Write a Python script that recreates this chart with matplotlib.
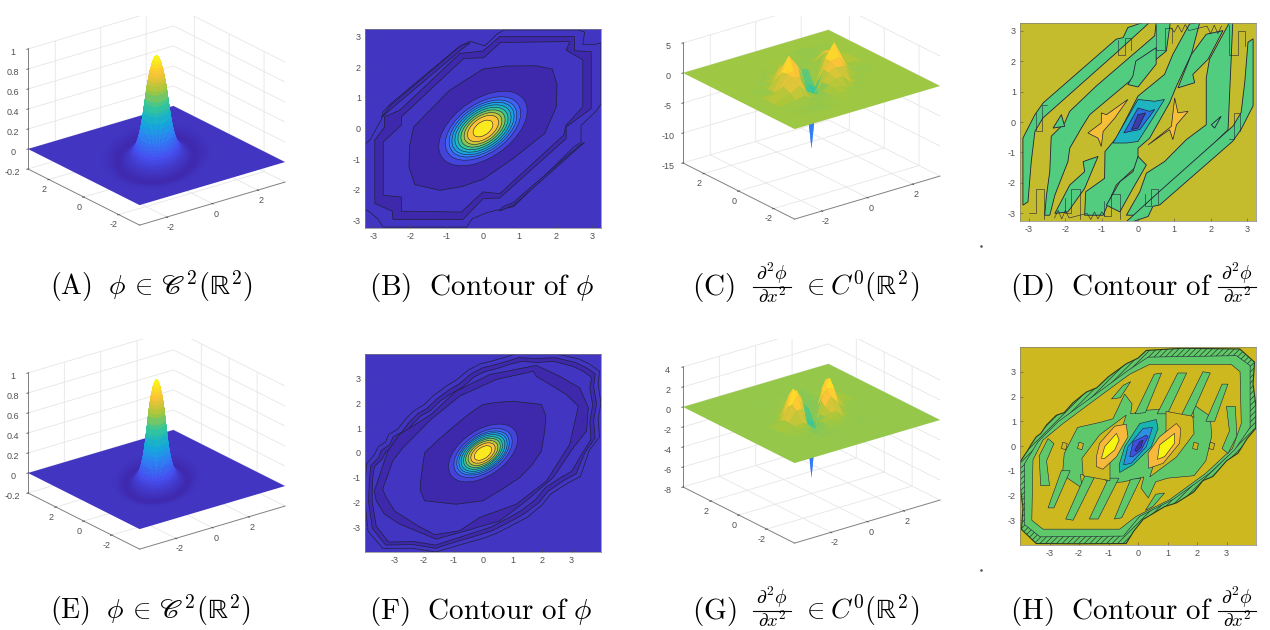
import matplotlib
matplotlib.use('Agg')
import matplotlib.pyplot as plt
import numpy as np
from matplotlib.colors import LinearSegmentedColormap, Normalize
from matplotlib.lines import Line2D
from matplotlib.patches import Ellipse, Rectangle
from mpl_toolkits.mplot3d import proj3d

plt.rcParams['axes.unicode_minus'] = False
plt.rcParams['font.family'] = ['Liberation Sans', 'DejaVu Sans']
plt.rcParams['mathtext.fontset'] = 'cm'
plt.rcParams['hatch.linewidth'] = 0.5

parula_colors = [(0.2422, 0.1504, 0.6603), (0.2810, 0.3228, 0.9578), (0.1786, 0.5289, 0.9682),
                 (0.0689, 0.6948, 0.8394), (0.2161, 0.7843, 0.5923), (0.6720, 0.7793, 0.2227),
                 (0.9970, 0.7659, 0.2199), (0.9769, 0.9839, 0.0805)]
parula = LinearSegmentedColormap.from_list('parula', parula_colors)

REALS = r'(\mathrm{\mathbb{R}}^2)'
phi_caption = r'$\mathrm{(%s)}\ \ \phi\,\in\,\mathscr{C}^2' + REALS + '$'
contour_phi_caption = r'$\mathrm{(%s)}\ \ \mathrm{Contour\ of}\ \phi$'
dxx_head = r'$\mathrm{(%s)}$'
dxx_tail = r'$\in C^0' + REALS + '$'
contour_dxx_head = r'$\mathrm{(%s)}\ \ \mathrm{Contour\ of}$'
dxx_top = r'$\partial^2\phi$'
dxx_bottom = r'$\partial x^2$'

# radial profile of the bump, read along the short axis of its ellipse
phi_r = [0, .03, .06, .09, .12, .15, .18, .2, .23, .25, .28, .3, .33, .35, .38, .4, .43, .45, .48, .51, .54, .57, .6,
         .63, .66, .69, .72, .76, .8, .84, .88, .92, .96, 1.0, 1.05, 1.1, 1.15, 1.2, 1.27, 1.33, 1.4, 1.47, 1.55, 1.65,
         1.75, 1.9]
phi_z = [1, .995, .985, .97, .95, .93, .9, .875, .85, .82, .78, .745, .7, .665, .6, .56, .5, .465, .4, .35, .3, .26,
         .22, .19, .16, .135, .11, .09, .07, .055, .04, .027, .015, .005, -.005, -.012, -.02, -.027, -.033, -.035,
         -.033, -.028, -.02, -.012, -.005, 0]

grid_xy = [-2.4, -1.7, -1.3, -1, -.6, -.3, 0, .3, .6, 1, 1.3, 1.7, 2.4]
dxx_c = [[0] * 13,
         [0, -.3, -.5, -.2, -.1, .1, .2, .1, -.05, 0, 0, 0, 0],
         [0, .3, .6, -.2, -.3, -.1, .4, .5, -.2, -.1, 0, 0, 0],
         [0, 1, 1.8, .6, -.4, -.2, .6, 1.2, 1.3, -.3, -.1, 0, 0],
         [.05, 1.6, 2.6, 2.4, -2.8, -2, .4, 1.6, 2.2, 2, -.3, -.1, 0],
         [0, .3, 2.8, 3, -.6, -3.6, -1.6, 1.8, 2.8, 3, 1.2, -.2, 0],
         [0, -.2, 2.6, 5, 2.8, -.4, -3.8, -.4, 2.8, 5, 2.6, -.2, 0],
         [0, -.2, 1.2, 3, 2.8, 1.8, -1.6, -3.6, -.6, 3, 2.8, .3, 0],
         [0, -.1, -.3, 2, 2.2, 1.6, .4, -2, -2.8, 2.4, 2.6, 1.6, .05],
         [0, 0, -.1, -.3, 1.3, 1.2, .6, -.2, -.4, .6, 1.8, 1, 0],
         [0, 0, 0, -.1, -.2, .5, .4, -.1, -.3, -.2, .6, .3, 0],
         [0, 0, 0, 0, -.05, .1, .2, .1, -.1, -.2, -.5, -.3, 0],
         [0] * 13]
dxx_g = [[0] * 13,
         [0, .1, -.1, -.25, .1, -.2, .25, -.1, .2, -.15, .1, 0, 0],
         [0, .2, .2, -.3, -.2, .1, .3, .3, -.1, .15, -.1, .1, 0],
         [0, .3, .4, .2, -.5, .1, .4, .6, .6, -.2, .2, -.1, 0],
         [.05, .4, 1.4, 1.4, -1.6, -1.2, .3, .9, 1.8, 1.0, -.2, .2, 0],
         [0, .4, 1.8, 2.6, .4, -2.2, -.9, 1.4, 2.4, 2.2, .4, -.1, 0],
         [0, .2, 1.4, 3, 1.6, -.6, -2.6, -.6, 1.6, 3, 1.4, .2, 0],
         [0, -.1, .4, 2.2, 2.4, 1.4, -.9, -2.2, .4, 2.6, 1.8, .4, 0],
         [0, .2, -.2, 1.0, 1.8, .9, .3, -1.2, -1.6, 1.4, 1.4, .4, .05],
         [0, -.1, .2, -.2, .6, .6, .4, .1, -.5, .2, .4, .3, 0],
         [0, .1, -.1, .15, -.1, .3, .3, .1, -.2, -.3, .2, .2, 0],
         [0, 0, .1, -.15, .2, -.1, .25, -.2, .1, -.25, -.1, .1, 0],
         [0] * 13]
spike_xy = [-.4, -.15, 0, .15, .4]
spike_c = [[-1, -1.5, -2, -1.5, -1], [-1.5, -5, -6, -5, -1.5], [-2, -6, -11.5, -6, -2],
           [-1.5, -5, -6, -5, -1.5], [-1, -1.5, -2, -1.5, -1]]
spike_g = [[-.8, -1, -1.4, -1, -.8], [-1, -3, -3.6, -3, -1], [-1.4, -3.6, -6.4, -3.6, -1.4],
           [-1, -3, -3.6, -3, -1], [-.8, -1, -1.4, -1, -.8]]

# nested ellipses of phi: level, half axis lengths
ellipse_levels = [.05, .15, .25, .35, .45, .55, .65, .75, .85, .95]
b_major = [1.48, 1.26, 1.13, 1.04, .94, .84, .74, .63, .52, .33]
b_minor = [.88, .75, .68, .62, .56, .5, .44, .38, .31, .2]
f_major = [1.42, 1.2, 1.08, .99, .9, .8, .71, .61, .5, .36]
f_minor = [.85, .72, .65, .6, .54, .48, .43, .37, .3, .21]

b_outer = [(-3.25, -.52), (-3.1, -.35), (-2.8, .3), (-2.75, .55), (-2.55, .8), (-.65, 2.68), (-.35, 2.85),
           (.05, 2.7), (.4, 3.1), (.6, 3.22), (2.62, 3.22), (2.8, 3.15), (2.75, 2.75), (3.1, 2.75), (3.25, 2.8),
           (3.25, .8), (3.1, .55), (2.7, .1), (2.7, -.45), (2.5, -.6), (.85, -2.55), (.45, -2.65), (.1, -2.75),
           (-.3, -2.95), (-.45, -3.22), (-2.75, -3.22), (-2.9, -2.95), (-3.15, -2.7), (-3.25, -2.65)]
b_sliver_tl = [(-2.8, .35), (-2.55, .75), (-.6, 2.72), (-.35, 2.8), (-.55, 2.62), (-2.55, .62)]
b_sliver_br = [(2.8, -.45), (.85, -2.5), (.45, -2.7), (.55, -2.55), (.83, -2.42), (2.65, -.55)]
b_ring_outer = [(-2.98, -.38), (-2.71, .05), (-2.71, .38), (-2.29, .6), (-.64, 2.45), (0, 2.53), (.46, 3.0),
                (2.52, 3.0), (2.52, 2.54), (2.98, 2.51), (2.98, .65), (2.29, .05), (2.29, -.33), (.46, -2.27),
                (0, -2.29), (-.55, -2.97), (-2.48, -2.97), (-2.5, -2.7), (-2.98, -2.45)]
b_ring_inner = [(-2.75, -.44), (-2.25, .11), (-2.25, .38), (-.53, 2.29), (.02, 2.31), (.48, 2.81), (2.39, 2.84),
                (2.29, 2.56), (2.75, 2.24), (2.75, .71), (2.29, .11), (2.22, -.22), (.46, -2.13), (0, -2.07),
                (-.6, -2.73), (-2.25, -2.7), (-2.25, -2.24), (-2.75, -2.18)]
b_blob = [(0, 1.94), (.64, 2.04), (1.47, 2.05), (1.91, 1.94), (2.04, 1.42), (2.02, .71), (1.7, -.16), (.83, -.98),
          (0, -1.66), (-.6, -1.9), (-1.19, -2.02), (-1.88, -1.83), (-2.04, -1.25), (-2.02, -.55), (-1.91, .05),
          (-.92, 1.25)]

f_edge_a = [(-3.98, -1.0), (-3.95, -.45), (-3.7, -.1), (-3.55, .25), (-3.3, .45), (-3.2, .75), (-2.9, .95),
            (-2.6, 1.4), (-2.35, 1.7), (-2.0, 1.95), (-1.7, 2.3), (-1.25, 2.7), (-.9, 2.95), (-.5, 3.35),
            (-.1, 3.6), (.25, 3.7), (.7, 3.85), (1.1, 4), (1.7, 4), (2.5, 4), (3.25, 3.8), (3.6, 3.6), (3.95, 3.3),
            (3.9, 2.8), (4, 2.0), (3.9, 1.4), (3.95, .65), (3.6, .1), (3.3, -.95), (2.9, -1.2), (2.3, -1.65),
            (2.0, -2.1), (1.5, -2.6), (1.1, -2.85), (.45, -3.25), (0, -3.45), (-.9, -3.75), (-1.6, -4),
            (-2.4, -3.85), (-3.4, -3.85), (-3.9, -3.15), (-4, -1.95)]
f_edge_b = [(-3.85, -1.05), (-3.8, -.5), (-3.55, -.2), (-3.45, .1), (-3.15, .35), (-3.05, .65), (-2.75, .85),
            (-2.5, 1.25), (-2.2, 1.6), (-1.9, 1.8), (-1.55, 2.2), (-1.15, 2.55), (-.8, 2.8), (-.4, 3.2),
            (0, 3.45), (.35, 3.55), (.8, 3.7), (1.2, 3.85), (1.8, 3.82), (2.45, 3.85), (3.15, 3.65), (3.5, 3.45),
            (3.8, 3.2), (3.75, 2.7), (3.85, 2.0), (3.75, 1.3), (3.8, .6), (3.45, .0), (3.15, -.85), (2.75, -1.1),
            (2.2, -1.55), (1.9, -2.0), (1.4, -2.45), (1.0, -2.72), (.35, -3.12), (-.1, -3.3), (-.95, -3.6),
            (-1.6, -3.85), (-2.4, -3.7), (-3.3, -3.72), (-3.75, -3.05), (-3.88, -1.95)]
f_edge_c = [(-3.75, -1.1), (-3.68, -.55), (-3.42, -.25), (-3.3, .05), (-3.05, .25), (-2.92, .6), (-2.62, .75),
            (-2.4, 1.15), (-2.1, 1.5), (-1.8, 1.7), (-1.45, 2.1), (-1.05, 2.42), (-.7, 2.65), (-.3, 3.08),
            (.1, 3.3), (.45, 3.4), (.9, 3.58), (1.3, 3.7), (1.85, 3.66), (2.4, 3.7), (3.05, 3.5), (3.4, 3.3),
            (3.68, 3.05), (3.62, 2.6), (3.72, 1.95), (3.62, 1.25), (3.66, .55), (3.32, -.1), (3.0, -.75),
            (2.62, -1.0), (2.1, -1.42), (1.78, -1.88), (1.3, -2.32), (.9, -2.6), (.25, -3.0), (-.2, -3.18),
            (-1.0, -3.48), (-1.6, -3.72), (-2.35, -3.58), (-3.2, -3.6), (-3.62, -2.95), (-3.76, -1.95)]
f_ring_outer = [(-3.68, -1.53), (-3.23, .08), (-2.83, .75), (-1.76, 1.56), (-.91, 2.5), (.23, 3.17), (1.81, 3.54),
                (2.6, 3.1), (3.28, 2.63), (3.57, 1.83), (3.51, .89), (3.06, .21), (2.38, -.99), (1.47, -1.93),
                (.57, -2.74), (-.57, -3.14), (-1.59, -3.48), (-2.83, -2.87), (-3.34, -2.47), (-3.62, -1.93)]
f_ring_inner = [(-3.4, -1.46), (-3.06, -.32), (-2.72, .21), (-1.76, 1.36), (-.79, 2.3), (.45, 2.97), (1.7, 3.3),
                (1.81, 3.1), (2.83, 2.36), (3.23, 1.89), (2.94, .35), (2.15, -1.13), (1.13, -2.07), (-.11, -2.6),
                (-.79, -3.14), (-1.64, -3.3), (-2.21, -2.94), (-3.0, -2.34), (-3.28, -1.8)]
f_blob = [(0, 1.96), (.5, 2.05), (1.02, 2.09), (1.55, 2.02), (1.98, 1.96), (2.13, 1.5), (2.1, .95), (1.98, .08),
          (1.65, -.5), (1.25, -.99), (.6, -1.5), (0, -1.93), (-.91, -2.07), (-1.98, -1.93), (-2.13, -1.5), (-2.1, -.99),
          (-1.98, .01), (-1.5, .55), (-.91, 1.15), (-.45, 1.6)]

d_green_regions = [
    [(-2.57, -3.06), (-2.52, -2.4), (-2.43, -1.63), (-2.39, -.47), (-2.02, -.03), (-1.88, .35), (-1.15, 1.18),
     (.46, 2.83), (.5, 3.27), (.89, 3.27), (.78, 2.33), (-.28, 1.29), (-1.33, .24), (-1.56, -.2), (-1.88, -.86),
     (-1.93, -1.3), (-2.29, -2.4), (-2.43, -3.06)],
    [(-1.47, -3.06), (-1.44, -2.29), (-.92, -1.85), (-.91, -.97), (-.6, -.53), (0, .85), (.73, 1.56), (.96, 2.22),
     (1.42, 3.22), (1.7, 3.27), (1.47, 2.22), (1.06, 1.18), (.87, .63), (.32, -.53), (0, -.86), (0, -1.41),
     (-.6, -2.07), (-.96, -3.06)],
    [(-.32, -3.06), (.05, -2.29), (.23, -1.68), (.73, -1.3), (1.33, -.58), (1.88, -.09), (1.88, 1.45), (1.97, 2.06),
     (2.52, 3.27), (2.61, 3.27), (2.57, 2.17), (2.48, -.25), (.5, -2.57), (.05, -3.06)],
    [(1.1, 1.12), (1.56, 1.29), (1.51, 1.56), (1.93, 2.06), (2.34, 3.0), (1.88, 2.88), (1.47, 2.22)],
    [(-1.1, -1.13), (-1.51, -1.3), (-1.47, -1.63), (-1.88, -2.07), (-2.29, -3.0), (-1.93, -2.95), (-1.47, -2.18)],
    [(0, -1.13), (-.14, -1.63), (-.5, -1.96), (-.87, -2.73), (-.5, -2.95), (-.14, -2.18), (.23, -1.41)],
    [(0, 1.15), (-.28, 1.23), (-.14, 1.51), (-.06, 2.0), (.5, 2.44), (.5, 1.9)],
    [(-2.34, -.2), (-2.11, .24), (-2.02, -.14)],
    [(2.02, -.09), (2.29, .19), (2.11, -.2)],
    [(-3.17, -.53), (-2.84, .24), (-2.61, .63), (-.6, 2.72), (-.41, 2.77), (-.28, 3.1), (.14, 3.27), (.32, 3.27),
     (-.6, 2.27), (-2.62, .13), (-2.84, -.31), (-2.94, -1.3), (-3.03, -2.62), (-3.17, -2.73)],
    [(3.17, .53), (2.84, -.24), (2.61, -.63), (.6, -2.72), (.41, -2.77), (.28, -3.1), (-.14, -3.27), (-.32, -3.27),
     (.6, -2.27), (2.62, -.13), (2.84, .31), (2.94, 1.3), (3.03, 2.62), (3.17, 2.73)],
]
# stair steps along the outer edges
d_steps = [[(-.55, 2.7), (-.55, 2.2), (-.35, 2.2), (-.35, 2.75), (-.2, 2.75), (-.2, 2.35)],
           [(.5, 3.2), (.5, 2.35), (.75, 2.35), (.75, 3.1), (.95, 3.1), (.95, 2.6)],
           [(2.52, 3.2), (2.52, 2.2), (2.75, 2.2), (2.75, 3.0), (2.95, 3.0), (2.95, 2.5)],
           [(-2.8, .3), (-2.8, -.3), (-2.65, -.3), (-2.65, .55), (-2.5, .55)],
           [(.55, -2.7), (.55, -2.2), (.35, -2.2), (.35, -2.75), (.2, -2.75), (.2, -2.35)],
           [(-.5, -3.2), (-.5, -2.35), (-.75, -2.35), (-.75, -3.1), (-.95, -3.1), (-.95, -2.6)],
           [(-1.6, -3.2), (-1.6, -2.2), (-1.85, -2.2), (-1.85, -3.0), (-2.0, -3.0), (-2.0, -2.5)],
           [(-2.6, -3.2), (-2.6, -2.2), (-2.8, -2.2), (-2.8, -3.0), (-3.0, -3.0)],
           [(2.8, -.3), (2.8, .3), (2.65, .3), (2.65, -.55), (2.5, -.55)]]
d_teal = [(-.69, -.69), (0, .74), (.46, .68), (.73, .74), (.41, .13), (0, -.64), (-.32, -.69)]
d_blue = [(-.39, -.36), (0, .46), (.32, .35), (.46, .41), (.05, -.25), (-.23, -.31)]
d_dark = [(-.18, -.25), (0, .24), (.21, .3), (0, -.2)]
d_star_l = [(-1.38, -.36), (-1.01, -.03), (-1.01, .3), (-.87, .24), (-.28, .74), (-.64, .13), (-.96, -.31),
            (-1.01, -.8), (-1.1, -.53)]
d_star_r = [(.28, -.75), (.92, -.14), (1.01, .79), (1.1, .3), (1.38, .35), (1.06, -.09), (.96, -.58), (.87, -.25)]
d_noise_top = [(.9, 3.1), (1.0, 2.95), (1.1, 3.18), (1.2, 2.95), (1.3, 3.2), (1.4, 3.0), (1.9, 3.15), (2.0, 2.9),
               (2.1, 3.18), (2.2, 2.9), (2.3, 3.15)]
d_noise_bottom = [(-.9, -3.1), (-1.0, -2.95), (-1.1, -3.18), (-1.2, -2.95), (-1.3, -3.2), (-1.4, -3.0),
                  (-1.9, -3.15), (-2.0, -2.9), (-2.1, -3.18), (-2.2, -2.9), (-2.3, -3.15)]

h_outer = [(-3.99, -.63), (-3.75, -.2), (-3.6, .1), (-3.45, .37), (-3.3, .5), (-3.1, .85), (-2.77, 1.24), (-2.5, 1.35),
           (-2.2, 1.75), (-1.75, 2.18), (-1.4, 2.35), (-1.0, 2.8), (-.4, 3.32), (0, 3.55), (.28, 3.86), (1.5, 3.95),
           (3.45, 3.92), (3.95, 3.39), (3.9, 2.5), (4, 1.6), (3.99, .71), (3.7, .3), (3.39, -.29), (3.0, -.6),
           (2.54, -1.23), (2.2, -1.4), (1.9, -1.85), (1.3, -2.3), (.9, -2.45), (.17, -2.97), (-.15, -3.45), (-.4, -3.94),
           (-2.0, -3.95), (-3.45, -3.94), (-3.95, -3.37), (-3.9, -2.5), (-4, -1.6)]
h_band = [(-3.84, -.7), (-3.39, .17), (-2.71, .98), (-1.64, 1.91), (-.34, 3.05), (.34, 3.59), (3.33, 3.65),
          (3.8, 3.25), (3.8, .75), (3.27, -.16), (2.43, -1.1), (1.19, -2.16), (.06, -2.84), (-.5, -3.64),
          (-3.32, -3.67), (-3.84, -3.18)]
h_inner = [(-3.56, -.56), (-3.22, .24), (-2.54, .91), (-1.41, 1.91), (-.28, 2.9), (.4, 3.3), (3.16, 3.3), (3.46, 3.0),
           (3.5, .9), (3.2, -.1), (2.3, -1.1), (1.07, -2.17), (-.06, -2.84), (-.62, -3.36), (-3.22, -3.36),
           (-3.6, -3.0)]
h_center = [(-2.55, -1.0), (-2.5, -.3), (-2.05, .75), (-1.3, .95), (-.85, 1.1), (-.45, 2.1), (-.2, 1.7), (-.25, 1.3),
            (.35, 1.45), (.95, 1.5), (1.2, 1.2), (1.9, 1.15), (1.85, 1.7), (2.45, 1.2), (2.5, .4), (2.3, -.6),
            (1.9, -1.2), (1.0, -1.3), (.6, -1.45), (.35, -2.1), (.1, -1.7), (.2, -1.25), (-.5, -1.45), (-1.0, -1.5),
            (-1.25, -1.2), (-1.95, -1.15), (-1.9, -1.7), (-2.45, -1.25)]
h_stripes = [
    [(-.1, 1.3), (.55, 2.9), (.8, 2.95), (.25, 1.35)],
    [(.65, 1.3), (1.35, 2.95), (1.65, 2.95), (1.0, 1.3)],
    [(1.45, 1.2), (2.2, 3.0), (2.45, 2.95), (1.8, 1.2)],
    [(2.3, 1.0), (2.85, 2.5), (3.05, 2.5), (2.6, 1.0)],
    [(-.9, 1.9), (-.5, 2.45), (-.25, 2.6), (-.6, 1.95)],
    [(.1, -1.3), (-.55, -2.9), (-.8, -2.95), (-.25, -1.35)],
    [(-.65, -1.3), (-1.35, -2.95), (-1.65, -2.95), (-1.0, -1.3)],
    [(-1.45, -1.2), (-2.2, -3.0), (-2.45, -2.95), (-1.8, -1.2)],
    [(-2.3, -1.0), (-2.85, -2.5), (-3.05, -2.5), (-2.6, -1.0)],
    [(.9, -1.9), (.5, -2.45), (.25, -2.6), (.6, -1.95)],
    [(-3.3, -1.6), (-3.35, -.4), (-3.05, .3), (-2.85, .1), (-3.1, -.6), (-3.0, -1.6)],
    [(3.3, 1.6), (3.35, .4), (3.05, -.3), (2.85, -.1), (3.1, .6), (3.0, 1.6)],
]
h_halo_l = [(-1.86, -1.2), (-1.9, -.5), (-1.3, .45), (-.4, 1.25), (-.65, .3), (-.95, -.6), (-.95, -1.4)]
h_halo_r = [(1.86, 1.2), (1.9, .5), (1.3, -.45), (.4, -1.25), (.65, -.3), (.95, .6), (.95, 1.4)]
h_spots = [[(-2.05, -.1), (-2.0, .15), (-1.85, .1), (-1.9, -.15)], [(-2.6, -.1), (-2.55, .15), (-2.4, .1), (-2.45, -.15)],
           [(2.05, .1), (2.0, -.15), (1.85, -.1), (1.9, .15)], [(2.6, .1), (2.55, -.15), (2.4, -.1), (2.45, .15)]]
h_orange_l = [(-1.41, -.43), (-1.3, .11), (-.79, .8), (-.4, .88), (-.34, .37), (-.73, -.43), (-1.19, -.94), (-1.41, -.83)]
h_yellow_l = [(-1.24, -.5), (-1.13, -.03), (-.73, .51), (-.64, .24), (-.79, -.16), (-1.13, -.5)]
h_orange_r = [(.36, -.9), (.34, -.29), (.73, .37), (1.3, .91), (1.45, .71), (1.41, .11), (.85, -.7)]
h_yellow_r = [(.66, -.54), (.73, .04), (1.24, .51), (1.24, .11), (.9, -.43)]
h_teal = [(-.62, -1.07), (-.64, -.76), (-.45, -.03), (.06, .91), (.62, 1.07), (.68, .71), (.45, -.03), (-.17, -.76)]
h_teal2 = [(-.49, -.76), (-.34, -.03), (.17, .71), (.49, .75), (.28, -.03), (-.23, -.7)]
h_blue = [(-.28, -.43), (-.17, .17), (.28, .44), (.34, .37), (.11, -.16), (-.17, -.43)]
h_dark = [(-.11, -.16), (.06, .17), (.17, .24), (.11, -.03), (-.06, -.23)]

W, H = 1270, 630
LINE = '#20203a'
fig = plt.figure(figsize=(W / 100, H / 100), dpi=100)


def frac_rect(left, top, right, bottom):
    return [left / W, 1 - bottom / H, (right - left) / W, (bottom - top) / H]


def setup_3d(lim, zlim, zticks, left, right, low_y):
    ax = fig.add_axes([.1, .1, .5, .5], projection='3d', computed_zorder=False)
    ax.set_proj_type('ortho')
    ax.view_init(elev=22.7, azim=-127.5)
    ax.set_xlim(-lim, lim, view_margin=0)
    ax.set_ylim(-lim, lim, view_margin=0)
    ax.set_zlim(zlim[0], zlim[1], view_margin=0)
    aspect = (1, 1, .71)
    ax.set_box_aspect(aspect)

    def corners():
        ax.apply_aspect()
        M = ax.get_proj()
        px = []
        for x, y in [(-lim, lim), (lim, -lim)]:
            sx, sy, _ = proj3d.proj_transform(x, y, zlim[0], M)
            px.append(ax.transData.transform((sx, sy)))
        return px

    p = corners()
    ax.set_box_aspect(aspect, zoom=(right - left) / (p[1][0] - p[0][0]))
    p = corners()
    pos = ax.get_position(original=True)
    ax.set_position([pos.x0 + (left - p[0][0]) / W, pos.y0 + ((H - low_y) - p[0][1]) / H, pos.width, pos.height])

    ax.set_xticks([-2, 0, 2])
    ax.set_yticks([-2, 0, 2])
    ax.set_zticks(zticks)
    ax.tick_params(labelsize=6.5, colors='#505050', pad=-4)
    ax.tick_params(axis='z', pad=-1)
    for axis in (ax.xaxis, ax.yaxis, ax.zaxis):
        axis.set_pane_color((1, 1, 1, 1))
        axis.pane.set_edgecolor((1, 1, 1, 0))
        axis.line.set_color('#808080')
        axis.line.set_linewidth(.7)
        axis._axinfo['grid']['color'] = (.9, .9, .9, 1)
        axis._axinfo['grid']['linewidth'] = .6
        axis._axinfo['tick']['color'] = '#808080'
        axis._axinfo['tick']['linewidth'] = {True: .6, False: .4}
        axis._axinfo['tick']['inward_factor'] = .1
        axis._axinfo['tick']['outward_factor'] = .05
    return ax


def draw_floor(ax, lim, color, zorder=1):
    ax.plot_surface(np.array([[-lim, lim], [-lim, lim]]), np.array([[-lim, -lim], [lim, lim]]), np.zeros((2, 2)),
                    color=color, shade=False, linewidth=0, zorder=zorder)


def draw_bump(ax, lim):
    floor_color = parula(Normalize(-.05, 1)(0))
    draw_floor(ax, lim, floor_color)
    t = np.linspace(0, 2 * np.pi, 73)
    r, tt = np.meshgrid(phi_r, t)
    major = 1.65 * r * np.cos(tt)
    minor = r * np.sin(tt)
    x = (major + minor) / np.sqrt(2)
    y = (major - minor) / np.sqrt(2)
    z = np.tile(phi_z, (len(t), 1))
    surf = ax.plot_surface(x, y, z, cmap=parula, vmin=-.05, vmax=1, rstride=1, cstride=1, linewidth=.2,
                           antialiased=True, shade=False, zorder=2)
    surf.set_edgecolor('face')


def draw_dxx(ax, lim, values, spike, vmin, vmax):
    norm = Normalize(vmin, vmax)
    x, y = np.meshgrid(spike_xy, spike_xy)
    ax.plot_surface(x, y, np.array(spike), cmap=parula, norm=norm, rstride=1, cstride=1, linewidth=0, shade=False,
                    zorder=0)
    draw_floor(ax, lim, parula(norm(0)))
    x, y = np.meshgrid(grid_xy, grid_xy)
    surf = ax.plot_surface(x, y, np.array(values), cmap=parula, norm=norm, rstride=1, cstride=1, linewidth=.2,
                           shade=False, zorder=2)
    surf.set_edgecolor('face')


def setup_2d(rect, lim, bg):
    ax = fig.add_axes(frac_rect(*rect))
    ax.set_xlim(-lim, lim)
    ax.set_ylim(-lim, lim)
    ticks = list(range(-3, 4))
    ax.set_xticks(ticks, [str(t) for t in ticks])
    ax.set_yticks(ticks, [str(t) for t in ticks])
    ax.tick_params(labelsize=6.5, colors='#505050', length=2, width=.4, direction='in', pad=3)
    ax.set_facecolor(bg)
    for s in ax.spines.values():
        s.set_color('#808080')
        s.set_linewidth(.5)
    return ax


def region(ax, pts, color, lw=.5, **kw):
    xs, ys = zip(*pts)
    ax.fill(xs, ys, facecolor=color, edgecolor=kw.pop('edge', LINE), linewidth=lw, **kw)


def draw_ellipses(ax, major, minor):
    norm = Normalize(-.05, 1)
    for level, a, b in zip(ellipse_levels, major, minor):
        ax.add_patch(Ellipse((0, 0), 2 * a, 2 * b, angle=45, facecolor=parula(norm(level)), edgecolor=LINE,
                             linewidth=.4))


def caption_text(x, y, text, size=21):
    fig.text(x / W, 1 - y / H, text, fontsize=size, ha='left', va='baseline', color='black', zorder=6)


def caption_frac(xc, rule_y):
    fig.text(xc / W, 1 - (rule_y - 7) / H, dxx_top, fontsize=14, ha='center', va='baseline', zorder=6)
    fig.text(xc / W, 1 - (rule_y + 16) / H, dxx_bottom, fontsize=13.5, ha='center', va='baseline', zorder=6)
    fig.add_artist(Line2D([(xc - 19) / W, (xc + 19) / W], [1 - rule_y / H] * 2, color='black', linewidth=.8, zorder=6))


# panel A and E
ax = setup_3d(3.2, (-.2, 1), [-.2, 0, .2, .4, .6, .8, 1], 28, 285, 169)
ax.set_zticklabels(['-0.2', '0', '0.2', '0.4', '0.6', '0.8', '1'])
draw_bump(ax, 3.2)
ax = setup_3d(4, (-.2, 1), [-.2, 0, .2, .4, .6, .8, 1], 28, 285, 493)
ax.set_zticklabels(['-0.2', '0', '0.2', '0.4', '0.6', '0.8', '1'])
draw_bump(ax, 4)

# panel C and G
ax = setup_3d(3.2, (-15, 5), [-15, -10, -5, 0, 5], 683, 940, 163)
draw_dxx(ax, 3.2, dxx_c, spike_c, -11.5, 5)
ax = setup_3d(4, (-8, 4), [-8, -6, -4, -2, 0, 2, 4], 683, 940, 487)
draw_dxx(ax, 4, dxx_g, spike_g, -6.5, 3)

# panel B
bg = parula(Normalize(-.05, 1)(0))
dark = parula(Normalize(-.05, 1)(-.04))
ax = setup_2d((365, 29, 601, 228), 3.25, bg)
region(ax, b_outer, bg)
region(ax, b_sliver_tl, dark)
region(ax, b_sliver_br, dark)
region(ax, b_ring_outer, dark)
region(ax, b_ring_inner, bg)
region(ax, b_blob, dark)
draw_ellipses(ax, b_major, b_minor)

# panel F
ax = setup_2d((365, 354, 601, 552), 4, bg)
region(ax, f_edge_a, bg)
region(ax, f_edge_b, dark)
region(ax, f_edge_c, bg)
region(ax, f_ring_outer, dark)
region(ax, f_ring_inner, bg)
region(ax, f_blob, dark)
draw_ellipses(ax, f_major, f_minor)

# panel D
ax = setup_2d((1020, 23, 1256, 221), 3.25, '#C4BC2C')
for pts in d_green_regions:
    region(ax, pts, '#52CC7E', lw=.6)
region(ax, d_teal, '#1FB5C0')
region(ax, d_blue, '#2E6FE0')
region(ax, d_dark, '#3B3CA8')
region(ax, d_star_l, '#F5C038')
region(ax, d_star_r, '#F5C038')
for pts in [d_noise_top, d_noise_bottom] + d_steps:
    xs, ys = zip(*pts)
    ax.plot(xs, ys, color=LINE, linewidth=.4)

# panel H
ax = setup_2d((1020, 347, 1256, 545), 4, '#CDB91F')
region(ax, h_outer, '#5FC86B', lw=.8, hatch='//////', edge='#2c3a20')
region(ax, h_band, '#5FC86B', lw=.4)
region(ax, h_inner, '#CDB91F', lw=.4)
region(ax, h_center, '#5FC86B', lw=.4)
for pts in h_stripes:
    region(ax, pts, '#5FC86B', lw=.4)
region(ax, h_halo_l, '#CDB91F', lw=.4)
region(ax, h_halo_r, '#CDB91F', lw=.4)
for pts in h_spots:
    region(ax, pts, '#CDB91F', lw=.4)
region(ax, h_orange_l, '#F6B93B', lw=.4)
region(ax, h_yellow_l, '#F5F50F', lw=.4)
region(ax, h_orange_r, '#F6B93B', lw=.4)
region(ax, h_yellow_r, '#F5F50F', lw=.4)
region(ax, h_teal, '#18B4B0', lw=.4)
region(ax, h_teal2, '#2C8FE0', lw=.4)
region(ax, h_blue, '#3F50E0', lw=.4)
region(ax, h_dark, '#3B33A8', lw=.4)

# the reference crops the 3d walls at the top of each picture
for left, top, width, height in [(0, 0, 340, 16), (640, 0, 340, 16), (0, 315, 340, 24), (640, 315, 340, 24)]:
    fig.add_artist(Rectangle((left / W, 1 - (top + height) / H), width / W, height / H, transform=fig.transFigure,
                             facecolor='white', edgecolor='none', zorder=5))
for y in (246, 570):
    fig.add_artist(Line2D([981 / W], [1 - y / H], marker='s', markersize=.8, color='#555555'))

# captions
for row, letters in enumerate(['ABCD', 'EFGH']):
    dy = 324 * row
    caption_text(50, 295 + dy, phi_caption % letters[0], size=20)
    caption_text(369, 295 + dy, contour_phi_caption % letters[1])
    caption_text(692, 295 + dy, dxx_head % letters[2])
    caption_frac(772, 287 + dy)
    caption_text(802, 295 + dy, dxx_tail, size=20)
    caption_text(1010, 295 + dy, contour_dxx_head % letters[3])
    caption_frac(1237, 287 + dy)

fig.savefig('out.png', dpi=100)
